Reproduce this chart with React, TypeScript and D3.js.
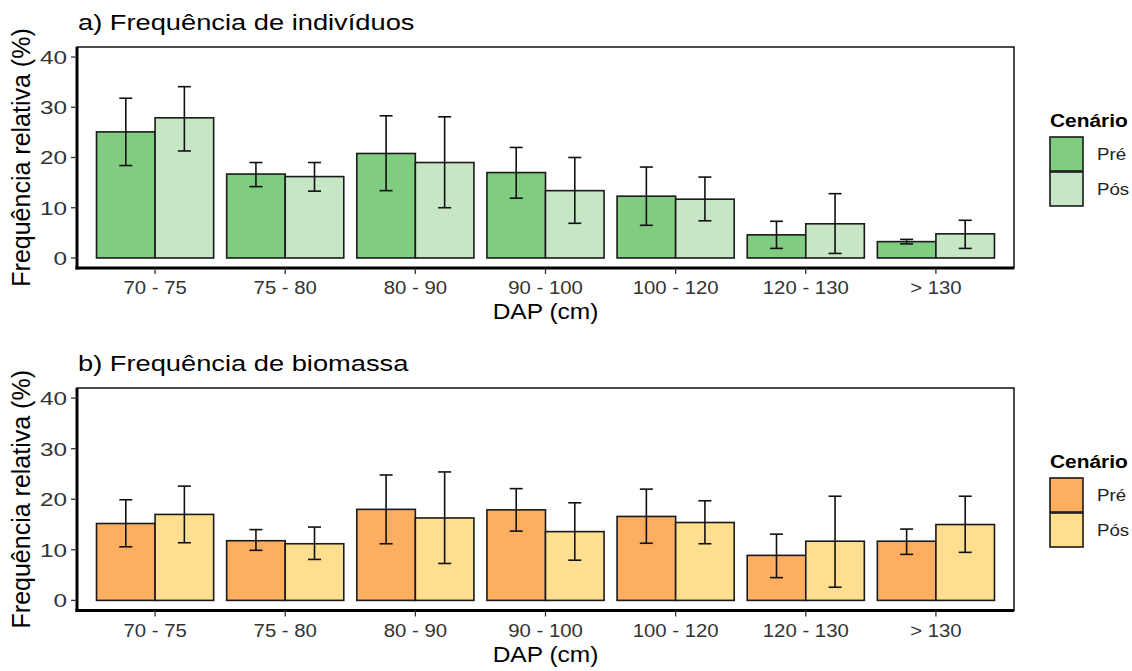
import React from 'react';
import * as d3 from 'd3';

// DAP classes
const categories = ['70 - 75', '75 - 80', '80 - 90', '90 - 100', '100 - 120', '120 - 130', '> 130'];
const scenarios = ['Pré', 'Pós'];
const yTicks = [0, 10, 20, 30, 40];

// a) individuals: mean, lower, upper per scenario
const indPre = [25.1, 16.7, 20.8, 17.0, 12.3, 4.6, 3.25];
const indPreLo = [18.4, 14.2, 13.4, 11.9, 6.5, 1.9, 2.8];
const indPreHi = [31.8, 19.0, 28.3, 22.0, 18.1, 7.3, 3.7];
const indPos = [27.9, 16.2, 19.0, 13.4, 11.7, 6.8, 4.8];
const indPosLo = [21.3, 13.3, 10.0, 6.9, 7.4, 0.9, 1.9];
const indPosHi = [34.1, 19.0, 28.1, 20.0, 16.1, 12.8, 7.5];

// b) biomass
const bioPre = [15.2, 11.8, 18.0, 17.9, 16.6, 8.9, 11.7];
const bioPreLo = [10.6, 9.9, 11.2, 13.7, 11.3, 4.5, 9.1];
const bioPreHi = [19.9, 14.0, 24.8, 22.1, 22.0, 13.1, 14.1];
const bioPos = [17.0, 11.2, 16.3, 13.6, 15.4, 11.7, 15.0];
const bioPosLo = [11.4, 8.1, 7.3, 7.95, 11.2, 2.6, 9.5];
const bioPosHi = [22.6, 14.5, 25.4, 19.3, 19.7, 20.6, 20.6];

const FONT = '"Liberation Sans", Arial, Helvetica, sans-serif';

// text stretched horizontally (the source figure is a bit wide)
function T({ x, y, sx = 1, children, ...rest }: any) {
    return (
        <text transform={`translate(${x},${y}) scale(${sx},1)`} {...rest}>{children}</text>
    );
}

type PanelProps = {
    title: string;
    top: number;      // panel top border
    bottom: number;   // panel bottom border
    series: { mean: number[]; lo: number[]; hi: number[] }[];
    colors: string[];
};

const left = 77;
const right = 1014;

function Panel({ title, top, bottom, series, colors }: PanelProps) {
    // ggplot style discrete expansion of 0.6 on each side
    const x = d3.scaleLinear().domain([0.4, categories.length + 0.6]).range([left, right]);
    const y = d3.scaleLinear().domain([-2, 42]).range([bottom, top]);
    const bw = 0.45;
    const capHalf = 0.05;

    const legendTop = top + 90;

    return (
        <g>
            <T x={left + 1} y={top - 17} sx={1.24} fontSize={22} fill="#000">{title}</T>

            {/* bars */}
            {categories.map((c, i) => (
                <g key={c}>
                    {series.map((s, j) => {
                        const x0 = x(i + 1 - bw + j * bw);
                        const x1 = x(i + 1 + j * bw);
                        return (
                            <rect key={j} x={x0} y={y(s.mean[i])} width={x1 - x0}
                                height={y(0) - y(s.mean[i])}
                                fill={colors[j]} stroke="#1a1a1a" strokeWidth={1.6} />
                        );
                    })}
                    {series.map((s, j) => {
                        const cx = x(i + 1 - bw / 2 + j * bw);
                        const hw = x(capHalf) - x(0);
                        return (
                            <g key={'e' + j} stroke="#111" strokeWidth={1.6} fill="none">
                                <line x1={cx} x2={cx} y1={y(s.lo[i])} y2={y(s.hi[i])} />
                                <line x1={cx - hw} x2={cx + hw} y1={y(s.lo[i])} y2={y(s.lo[i])} />
                                <line x1={cx - hw} x2={cx + hw} y1={y(s.hi[i])} y2={y(s.hi[i])} />
                            </g>
                        );
                    })}
                </g>
            ))}

            {/* panel border and axis lines */}
            <rect x={left} y={top} width={right - left} height={bottom - top}
                fill="none" stroke="#111" strokeWidth={1.5} />
            <line x1={left} x2={left} y1={top} y2={bottom + 1.5} stroke="#000" strokeWidth={3} />
            <line x1={left - 1.5} x2={right} y1={bottom} y2={bottom} stroke="#000" strokeWidth={3} />

            {/* y axis */}
            {yTicks.map(t => (
                <g key={t}>
                    <line x1={left - 6} x2={left} y1={y(t)} y2={y(t)} stroke="#333" strokeWidth={1.3} />
                    <T x={left - 10} y={y(t)} sx={1.28} dy="0.36em" textAnchor="end" fontSize={19} fill="#333">{t}</T>
                </g>
            ))}

            {/* x axis */}
            {categories.map((c, i) => (
                <g key={c}>
                    <line x1={x(i + 1)} x2={x(i + 1)} y1={bottom} y2={bottom + 6} stroke="#333" strokeWidth={1.3} />
                    <T x={x(i + 1)} y={bottom + 26} sx={1.1} textAnchor="middle" fontSize={18.5} fill="#333">{c}</T>
                </g>
            ))}
            <T x={(left + right) / 2} y={bottom + 51} sx={1.14} textAnchor="middle" fontSize={21.5} fill="#000">DAP (cm)</T>

            <text transform={`translate(30,${(top + bottom) / 2}) rotate(-90)`} textAnchor="middle"
                fontSize={25} fill="#000">Frequência relativa (%)</text>

            {/* legend */}
            <T x={1050} y={legendTop - 10} sx={1.1} fontSize={19} fontWeight="bold" fill="#000">Cenário</T>
            {scenarios.map((s, j) => (
                <g key={s}>
                    <rect x={1050} y={legendTop + j * 35} width={33} height={34}
                        fill={colors[j]} stroke="#1a1a1a" strokeWidth={1.6} />
                    <T x={1097} y={legendTop + j * 35 + 17} sx={1.1} dy="0.35em" fontSize={17} fill="#222">{s}</T>
                </g>
            ))}
        </g>
    );
}

export default function App() {
    return (
        <svg width={1132} height={671} style={{ position: 'absolute', left: 0, top: 0, background: '#fff' }}
            fontFamily={FONT}>
            <rect width={1132} height={671} fill="#fff" />
            <Panel title="a) Frequência de indivíduos" top={47} bottom={268}
                colors={['#80cc80', '#c7e6c6']}
                series={[
                    { mean: indPre, lo: indPreLo, hi: indPreHi },
                    { mean: indPos, lo: indPosLo, hi: indPosHi }
                ]} />
            <Panel title="b) Frequência de biomassa" top={388} bottom={610.5}
                colors={['#fdae61', '#fedf8f']}
                series={[
                    { mean: bioPre, lo: bioPreLo, hi: bioPreHi },
                    { mean: bioPos, lo: bioPosLo, hi: bioPosHi }
                ]} />
        </svg>
    );
}
